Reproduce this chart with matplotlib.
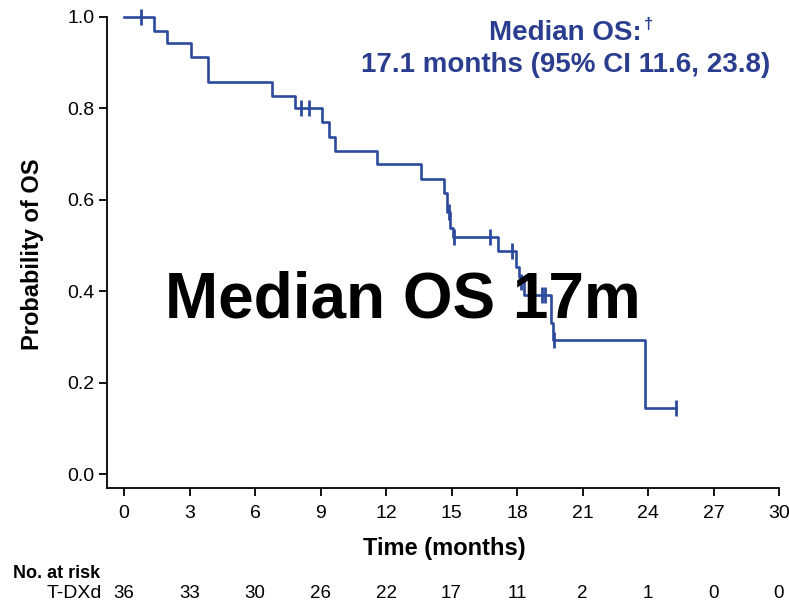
import numpy as np
import matplotlib
matplotlib.use("Agg")
import matplotlib.pyplot as plt
import matplotlib.transforms as mtrans

plt.rcParams['font.family'] = ['Liberation Sans', 'DejaVu Sans']

# Kaplan-Meier step data (time in months, survival probability)
step_times = [0, 1.39, 1.95, 3.07, 3.83, 6.79, 7.82, 9.07, 9.4, 9.68, 11.6,
              13.59, 14.66, 14.78, 14.95, 15.05, 17.12, 17.96, 18.08, 18.18,
              18.3, 19.55, 19.65, 23.84, 25.3]
step_surv = [1.0, 0.969, 0.942, 0.9125, 0.857, 0.827, 0.80, 0.769, 0.738,
             0.707, 0.677, 0.645, 0.614, 0.574, 0.537, 0.519, 0.487, 0.453,
             0.431, 0.42, 0.391, 0.33, 0.293, 0.145, 0.145]
censor_times = [0.76, 8.09, 8.47, 14.88, 15.1, 16.74, 17.76, 18.2, 19.13,
                19.28, 19.7, 25.3]

x_ticks = [0, 3, 6, 9, 12, 15, 18, 21, 24, 27, 30]
y_ticks = [0.0, 0.2, 0.4, 0.6, 0.8, 1.0]
at_risk = [36, 33, 30, 26, 22, 17, 11, 2, 1, 0, 0]
arm_label = "T-DXd"

line_col = '#2c4a9c'
text_col = '#2b3d8e'

W, H = 789, 602
fig = plt.figure(figsize=(W / 100, H / 100), dpi=100)
ax = fig.add_axes([107 / W, 1 - 488 / H, (779 - 107) / W, (488 - 16.7) / H])

ax.plot(step_times, step_surv, drawstyle='steps-post', color=line_col,
        lw=1.9, clip_on=False, zorder=3)

def surv_at(t):
    idx = np.searchsorted(step_times, t, side='right') - 1
    return step_surv[max(idx, 0)]

cens_y = [surv_at(t) for t in censor_times]
ax.plot(censor_times, cens_y, linestyle='none', marker='|', markersize=11,
        markeredgewidth=2.0, color=line_col, clip_on=False, zorder=4)

ax.set_xlim(-0.78, 30)
ax.set_ylim(-0.0306, 1.0)
ax.set_xticks(x_ticks)
ax.set_xticklabels([str(v) for v in x_ticks])
ax.set_yticks(y_ticks)
ax.set_yticklabels([f"{v:.1f}" for v in y_ticks])
for s in ['top', 'right']:
    ax.spines[s].set_visible(False)
for s in ['left', 'bottom']:
    ax.spines[s].set_linewidth(1.3)
ax.tick_params(axis='both', direction='out', length=6, width=1.3,
               labelsize=14, pad=3)
ax.tick_params(axis='x', pad=6)

fig.text(33 / W, 1 - 254 / H, "Probability of OS", rotation=90, ha='center',
         va='center', fontsize=17, fontweight='bold')
fig.text(444 / W, 1 - 549 / H, "Time (months)", ha='center', va='center',
         fontsize=17, fontweight='bold')

# Median annotation
fig.text(642 / W, 1 - 40 / H, "Median OS:", ha='right', va='baseline',
         fontsize=20, fontweight='bold', color=text_col)
fig.text(644 / W, 1 - 29 / H, "\u2020", ha='left', va='baseline',
         fontsize=12, fontweight='bold', color=text_col)
fig.text(566 / W, 1 - 72 / H, "17.1 months (95% CI 11.6, 23.8)", ha='center',
         va='baseline', fontsize=20, fontweight='bold', color=text_col)

# Big overlay text
fig.text(403 / W, 1 - 318 / H, "Median OS 17m", ha='center', va='baseline',
         fontsize=46, fontweight='bold', color='black', zorder=10)

# Number at risk
fig.text(13 / W, 1 - 573 / H, "No. at risk", ha='left', va='center',
         fontsize=13, fontweight='bold')
fig.text(102 / W, 1 - 593 / H, arm_label, ha='right', va='center', fontsize=14)
trans = mtrans.blended_transform_factory(ax.transData, fig.transFigure)
for t, n in zip(x_ticks, at_risk):
    ax.text(t, 1 - 593 / H, str(n), transform=trans, ha='center', va='center',
            fontsize=13.5, clip_on=False)

fig.savefig("out.png", dpi=100)
